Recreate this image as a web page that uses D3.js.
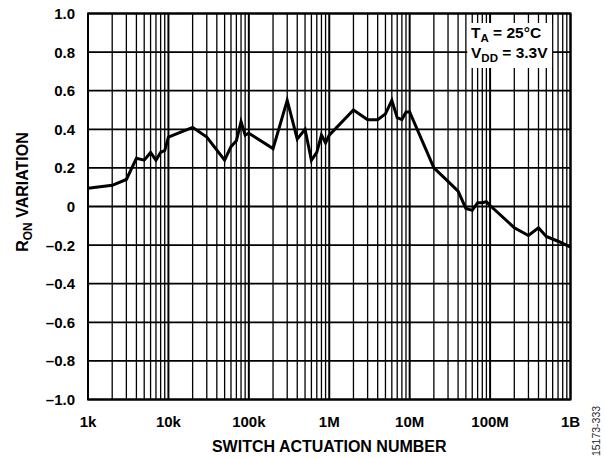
<!DOCTYPE html>
<html><head><meta charset="utf-8">
<script src="https://cdn.jsdelivr.net/npm/d3@7"></script>
<style>
html,body{margin:0;padding:0;background:#fff;}
svg{display:block;font-family:"Liberation Sans",Arial,sans-serif;}
</style></head>
<body>
<svg id="c" width="605" height="458"></svg>
<script>
// Data
const actuations = [1e3,2e3,3e3,4e3,5e3,6e3,7e3,8e3,9e3,1e4,2e4,3e4,5e4,6e4,7e4,8e4,9e4,1e5,2e5,3e5,4e5,5e5,6e5,7e5,8e5,9e5,1e6,2e6,3e6,4e6,5e6,6e6,7e6,8e6,9e6,1e7,2e7,3e7,4e7,5e7,6e7,7e7,8e7,9e7,1e8,2e8,3e8,4e8,5e8,7e8,1e9];
const ronVariation = [0.095,0.11,0.14,0.25,0.24,0.28,0.24,0.28,0.29,0.36,0.41,0.36,0.24,0.31,0.34,0.44,0.37,0.38,0.30,0.55,0.35,0.40,0.24,0.28,0.37,0.33,0.37,0.50,0.45,0.45,0.48,0.55,0.46,0.45,0.49,0.49,0.20,0.13,0.08,-0.01,-0.02,0.02,0.02,0.025,0.005,-0.11,-0.15,-0.11,-0.155,-0.18,-0.21];
const xTickValues = [1e3,1e4,1e5,1e6,1e7,1e8,1e9];
const xTickLabels = ["1k","10k","100k","1M","10M","100M","1B"];
const yTickValues = [-1,-0.8,-0.6,-0.4,-0.2,0,0.2,0.4,0.6,0.8,1.0];
const yTickLabels = ["\u20131.0","\u20130.8","\u20130.6","\u20130.4","\u20130.2","0","0.2","0.4","0.6","0.8","1.0"];

const svg = d3.select("#c");
const L = 88, R = 570.5, T = 13.5, B = 399.5;
const x = d3.scaleLog().domain([1e3,1e9]).range([L,R]);
const y = d3.scaleLinear().domain([-1,1]).range([B,T]);

// minor vertical grid
const minor = [];
for (let d = 1e3; d < 1e9; d *= 10) for (let k = 2; k <= 9; k++) minor.push(d*k);
svg.append("g").selectAll("line").data(minor).join("line")
  .attr("x1", d => x(d)).attr("x2", d => x(d)).attr("y1", T).attr("y2", B)
  .attr("stroke", "#000").attr("stroke-width", 1.3);
// decade lines
svg.append("g").selectAll("line").data(xTickValues).join("line")
  .attr("x1", d => x(d)).attr("x2", d => x(d)).attr("y1", T).attr("y2", B)
  .attr("stroke", "#000").attr("stroke-width", 2);
// horizontal grid
svg.append("g").selectAll("line").data(yTickValues).join("line")
  .attr("x1", L).attr("x2", R).attr("y1", d => y(d)).attr("y2", d => y(d))
  .attr("stroke", "#000").attr("stroke-width", 1.8);
// frame
svg.append("rect").attr("x", L).attr("y", T).attr("width", R-L).attr("height", B-T)
  .attr("fill", "none").attr("stroke", "#000").attr("stroke-width", 2);

// data line
svg.append("path").datum(actuations.map((a,i)=>[a, ronVariation[i]]))
  .attr("fill","none").attr("stroke","#000").attr("stroke-width",3).attr("stroke-linejoin","miter")
  .attr("d", d3.line().x(d=>x(d[0])).y(d=>y(d[1])));

// legend box
const bx = x(5.2e7), bx2 = x(5.9e8);
svg.append("rect").attr("x", bx).attr("y", 23).attr("width", bx2-bx).attr("height", 45).attr("fill","#fff");
const leg = svg.append("g").attr("font-weight","bold").attr("font-size",15.5);
const t1 = leg.append("text").attr("x", 471).attr("y", 38);
t1.append("tspan").text("T");
t1.append("tspan").attr("font-size",11.5).attr("dy",3.5).text("A");
t1.append("tspan").attr("dy",-3.5).text(" = 25°C");
const t2 = leg.append("text").attr("x", 471).attr("y", 58);
t2.append("tspan").text("V");
t2.append("tspan").attr("font-size",11.5).attr("dy",3.5).text("DD");
t2.append("tspan").attr("dy",-3.5).text(" = 3.3V");

// y tick labels
svg.append("g").selectAll("text").data(yTickValues).join("text")
  .attr("x", 75).attr("y", d => y(d)+5.4).attr("text-anchor","end")
  .attr("font-size",15).attr("font-weight","bold")
  .text((d,i)=>yTickLabels[i]);
// x tick labels
svg.append("g").selectAll("text").data(xTickValues).join("text")
  .attr("x", d => x(d)).attr("y", 426.5).attr("text-anchor","middle")
  .attr("font-size",15).attr("font-weight","bold")
  .text((d,i)=>xTickLabels[i]);

// axis titles
svg.append("text").attr("x", (L+R)/2).attr("y", 452).attr("text-anchor","middle")
  .attr("font-size",16).attr("font-weight","bold").text("SWITCH ACTUATION NUMBER");
const yt = svg.append("text").attr("transform","translate(28,192) rotate(-90)")
  .attr("text-anchor","middle").attr("font-size",16).attr("font-weight","bold");
yt.append("tspan").text("R");
yt.append("tspan").attr("font-size",12).attr("dy",3.5).text("ON");
yt.append("tspan").attr("dy",-3.5).text(" VARIATION");

// figure id
svg.append("text").attr("transform","translate(600,431) rotate(-90)")
  .attr("text-anchor","middle").attr("font-size",10.5).attr("fill","#222").text("15173-333");
</script>
</body></html>
